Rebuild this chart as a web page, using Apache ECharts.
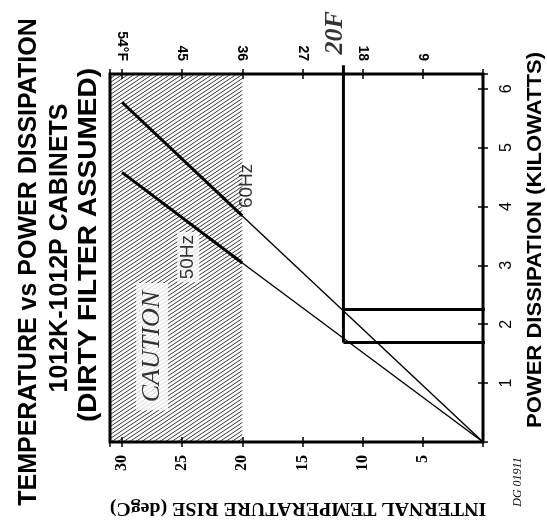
<!DOCTYPE html>
<html>
<head>
<meta charset="utf-8">
<script src="https://cdn.jsdelivr.net/npm/echarts@6/dist/echarts.min.js"></script>
<style>html,body{margin:0;padding:0;background:#fff}#c{width:547px;height:529px}</style>
</head>
<body>
<div id="c"></div>
<script>
// ---- data ----
const tempRise = [0, 20, 30];            // degC
const power60Hz = [0, 3.84, 5.77];       // kW at 60 Hz
const power50Hz = [0, 3.04, 4.58];       // kW at 50 Hz
const tempTicks = [5, 10, 15, 20, 25, 30];
const fahrenheitTicks = [9, 18, 27, 36, 45, 54];
const powerTicks = [1, 2, 3, 4, 5, 6];
const cautionFrom = 20;                  // degC, start of caution band
const markerTemp = 11.6;                 // 20 F line in degC
const markerPowers = [1.69, 2.25];       // kW
const markerTop = 6.4;
const markerEnd = -1.25;
const annotations = [
  {name: 'CAUTION', value: [27.5, 1.62]},
  {name: '50Hz', value: [24.5, 3.14]},
  {name: '60Hz', value: [19.6, 4.35]},
  {name: '20F', value: [12.3, 6.95]}
];
const tMax = 31, pMax = 6.25;

function hatch() {
  const c = document.createElement('canvas');
  c.width = 6; c.height = 4;
  const g = c.getContext('2d');
  g.strokeStyle = '#000'; g.lineWidth = 0.8;
  for (let k = -1; k <= 1; k++) {
    g.beginPath();
    g.moveTo(-6, 8 + 4 * k);
    g.lineTo(12, -4 + 4 * k);
    g.stroke();
  }
  return c;
}

const chart = echarts.init(document.getElementById('c'), null, {renderer: 'canvas'});
const lbl = (ticks, fmt) => v => ticks.indexOf(v) >= 0 ? (fmt ? fmt(v) : String(v)) : '';
const tickStyle = {lineStyle: {color: '#000', width: 1.5}};

const seg = (xs, ys, i0, i1) => xs.slice(i0, i1 + 1).map((x, i) => [x, ys[i0 + i]]);

const annStyles = {
  'CAUTION': {fontFamily: 'Liberation Serif', fontStyle: 'italic', fontSize: 26, backgroundColor: '#fff', padding: [4, 8, 2, 8]},
  '50Hz': {fontFamily: 'Liberation Sans', fontSize: 19, backgroundColor: '#fff', padding: [2, 3, 1, 3]},
  '60Hz': {fontFamily: 'Liberation Sans', fontSize: 19},
  '20F': {fontFamily: 'Liberation Serif', fontStyle: 'italic', fontWeight: 'bold', fontSize: 26}
};

const vtext = (text, x, y, font, sx) => ({type: 'text', x, y, rotation: Math.PI / 2, scaleX: sx || 1, z: 10,
  style: {text, font, fill: '#000', align: 'center', verticalAlign: 'middle'}});

chart.setOption({
  animation: false,
  backgroundColor: '#fff',
  grid: {left: 110, right: 64, top: 74, bottom: 87, show: true, borderColor: '#000', borderWidth: 3, backgroundColor: 'transparent'},
  xAxis: [
    {type: 'value', position: 'bottom', inverse: true, min: 0, max: tMax, interval: 5,
     axisLine: {show: false}, splitLine: {show: false},
     axisTick: Object.assign({show: true, length: 5}, tickStyle),
     axisLabel: {rotate: 90, margin: 13, fontSize: 16, fontWeight: 'bold', fontFamily: 'Liberation Serif', color: '#000', formatter: lbl(tempTicks)}},
    {type: 'value', position: 'bottom', inverse: true, min: 0, max: tMax, interval: 5,
     axisLine: {show: false}, splitLine: {show: false},
     axisTick: Object.assign({show: true, inside: true, length: 5}, tickStyle), axisLabel: {show: false}},
    {type: 'value', position: 'top', inverse: true, min: 0, max: tMax * 1.8, interval: 9,
     axisLine: {show: false}, splitLine: {show: false},
     axisTick: Object.assign({show: true, length: 5}, tickStyle),
     axisLabel: {rotate: 90, margin: 13, fontSize: 14, fontWeight: 'bold', fontFamily: 'Liberation Sans', color: '#000',
       formatter: lbl(fahrenheitTicks, v => v === 54 ? '54°F' : String(v))}},
    {type: 'value', position: 'top', inverse: true, min: 0, max: tMax * 1.8, interval: 9,
     axisLine: {show: false}, splitLine: {show: false},
     axisTick: Object.assign({show: true, inside: true, length: 5}, tickStyle), axisLabel: {show: false}}
  ],
  yAxis: [
    {type: 'value', position: 'right', min: 0, max: pMax, interval: 1,
     axisLine: {show: false}, splitLine: {show: false},
     axisTick: Object.assign({show: true, length: 5}, tickStyle),
     axisLabel: {rotate: 90, margin: 16, fontSize: 16, fontFamily: 'Liberation Sans', color: '#000', formatter: lbl(powerTicks)}},
    {type: 'value', position: 'right', min: 0, max: pMax, interval: 1,
     axisLine: {show: false}, splitLine: {show: false},
     axisTick: Object.assign({show: true, inside: true, length: 5}, tickStyle), axisLabel: {show: false}}
  ],
  graphic: [
    vtext('TEMPERATURE vs POWER DISSIPATION', 29, 262, 'bold 25px "Liberation Sans"', 1),
    vtext('1012K-1012P CABINETS', 60, 248, 'bold 25px "Liberation Sans"', 1),
    vtext('(DIRTY FILTER ASSUMED)', 89, 245, 'bold 25px "Liberation Sans"', 1.12),
    {type: 'text', x: 298, y: 508, rotation: Math.PI, scaleX: 1.045, z: 10,
     style: {text: 'INTERNAL TEMPERATURE RISE (degC)', font: 'bold 19px "Liberation Serif"', fill: '#000', align: 'center', verticalAlign: 'middle'}},
    vtext('POWER DISSIPATION (KILOWATTS)', 535, 240, 'bold 21px "Liberation Sans"', 1.05),
    vtext('DG 01911', 518, 482, 'italic 12px "Liberation Serif"', 1)
  ],
  series: [
    {type: 'line', name: 'caution', data: [], silent: true,
     markArea: {silent: true, itemStyle: {color: {image: hatch(), repeat: 'repeat'}},
       data: [[{xAxis: cautionFrom, yAxis: 0}, {xAxis: tMax, yAxis: pMax}]]}},
    {type: 'line', name: '60Hz thin', data: seg(tempRise, power60Hz, 0, 1), symbol: 'none', lineStyle: {color: '#000', width: 1.4}},
    {type: 'line', name: '60Hz', data: seg(tempRise, power60Hz, 1, 2), symbol: 'none', lineStyle: {color: '#000', width: 3}},
    {type: 'line', name: '50Hz thin', data: seg(tempRise, power50Hz, 0, 1), symbol: 'none', lineStyle: {color: '#000', width: 1.4}},
    {type: 'line', name: '50Hz', data: seg(tempRise, power50Hz, 1, 2), symbol: 'none', lineStyle: {color: '#000', width: 3}},
    {type: 'line', name: '20F', clip: false, data: [[markerTemp, markerPowers[0]], [markerTemp, markerTop]], symbol: 'none', lineStyle: {color: '#000', width: 3}},
    {type: 'line', name: 'm1', clip: false, data: [[markerTemp, markerPowers[0]], [markerEnd, markerPowers[0]]], symbol: 'none', lineStyle: {color: '#000', width: 3}},
    {type: 'line', name: 'm2', clip: false, data: [[markerTemp, markerPowers[1]], [markerEnd, markerPowers[1]]], symbol: 'none', lineStyle: {color: '#000', width: 3}},
    {type: 'scatter', name: 'labels', clip: false, symbolSize: 0, z: 20,
     data: annotations.map(a => ({name: a.name, value: a.value,
       label: Object.assign({show: true, position: 'inside', rotate: 90, color: '#000', formatter: '{b}'}, annStyles[a.name])}))}
  ]
});
</script>
</body>
</html>
